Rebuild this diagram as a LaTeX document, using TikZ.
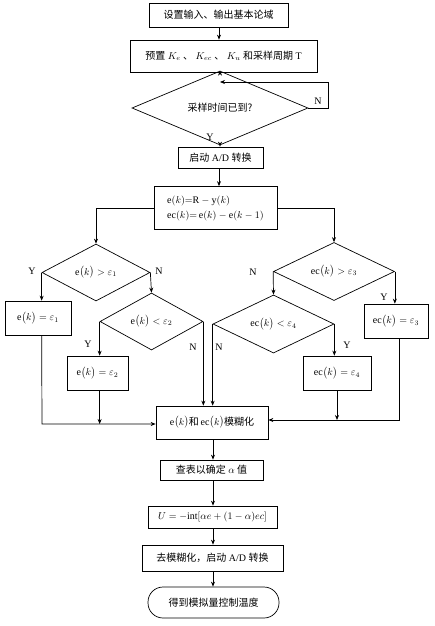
\documentclass[tikz,border=0pt]{standalone}
\usepackage{fontspec}
\setmainfont{Liberation Serif}
\newfontfamily\cjk{Noto Sans CJK SC}
\usetikzlibrary{shapes.geometric,arrows.meta}
\newcommand{\fk}{\bigl(k\bigr)}
\begin{document}
\begin{tikzpicture}[x=1pt,y=-1pt,
  every node/.style={font=\fontsize{10}{12}\selectfont},
  bx/.style={draw, line width=0.7pt, inner sep=0pt, minimum width=#1},
  dm/.style={draw, diamond, line width=0.7pt, inner sep=0pt},
  lb/.style={inner sep=0pt},
  ln/.style={line width=0.7pt},
  ar/.style={line width=0.7pt, -{Stealth[length=5pt,width=4pt]}}]
\useasboundingbox (0,0) rectangle (434,626);
\fill[white] (0,0) rectangle (434,626);
% nodes
\node[bx=139pt, minimum height=24pt] (b1) at (218.5,15) {\cjk 设置输入、输出基本论域};
\node[bx=187pt, minimum height=32pt] (b2) at (223.5,56) {{\cjk 预置} $K_e$ {\cjk 、} $K_{ec}$ {\cjk 、} $K_u$ {\cjk 和采样周期} T};
\node[dm, minimum width=176pt, minimum height=40pt] (d1) at (220,108) {\cjk 采样时间已到?};
\node[bx=85pt, minimum height=21pt] (b3) at (220.5,157.5) {{\cjk 启动} A/D {\cjk 转换}};
\node[bx=123pt, minimum height=43pt, align=left, font=\fontsize{10}{15}\selectfont] (b4) at (215.5,208)
  {$\mathrm{e}(k){=}\mathrm{R}-\mathrm{y}(k)$\\$\mathrm{ec}(k){=}\,\mathrm{e}(k)-\mathrm{e}(k-1)$};
\node[dm, minimum width=108pt, minimum height=57pt] (dl1) at (96,272.5) {$\mathrm{e}\fk>\varepsilon_1$};
\node[dm, minimum width=121pt, minimum height=57pt] (dr1) at (334,271.5) {$\mathrm{ec}\fk>\varepsilon_3$};
\node[bx=66pt, minimum height=34pt] (bl1) at (38,318) {$\mathrm{e}\fk=\varepsilon_1$};
\node[dm, minimum width=103pt, minimum height=57pt] (dl2) at (151.5,321.5) {$\mathrm{e}\fk<\varepsilon_2$};
\node[bx=61pt, minimum height=34pt] (bl2) at (97.5,373) {$\mathrm{e}\fk=\varepsilon_2$};
\node[bx=64pt, minimum height=34pt] (br1) at (396,321) {$\mathrm{ec}\fk=\varepsilon_3$};
\node[dm, minimum width=121pt, minimum height=58pt] (dr2) at (273.5,324) {$\mathrm{ec}\fk<\varepsilon_4$};
\node[bx=68pt, minimum height=34pt] (br2) at (337,373) {$\mathrm{ec}\fk=\varepsilon_4$};
\node[bx=112pt, minimum height=33pt] (c) at (212,422.5) {$\mathrm{e}\fk${\cjk 和}$\,\mathrm{ec}\fk${\cjk 模糊化}};
\node[bx=103pt, minimum height=20pt] (b5) at (211.5,470) {{\cjk 查表以确定} $\alpha$ {\cjk 值}};
\node[bx=129pt, minimum height=22pt] (b6) at (212.5,517) {$U=-\mathrm{int}[\alpha e+(1-\alpha)ec]$};
\node[bx=141pt, minimum height=26pt] (b7) at (212.5,558) {{\cjk 去模糊化，启动} A/D {\cjk 转换}};
\node[bx=131pt, minimum height=31pt, rounded corners=15pt] (b8) at (213.5,602.5) {\cjk 得到模拟量控制温度};
% labels
\node[lb] (lN1) at (318,101) {N};
\node[lb] (lY1) at (210,137) {Y};
\node[lb] (lY2) at (32,271) {Y};
\node[lb] (lN2) at (159,271) {N};
\node[lb] (lY3) at (88,344) {Y};
\node[lb] (lN3) at (193,347) {N};
\node[lb] (lN4) at (253,272) {N};
\node[lb] (lY4) at (384,297) {Y};
\node[lb] (lY5) at (347,345) {Y};
\node[lb] (lN5) at (219,347) {N};
% coordinates
\coordinate (lp) at (328,82);
\coordinate (lpe) at (220,82);
\coordinate (jl) at (42,424);
\coordinate (jr) at (399,420);
% connectors
\draw[ar] (b1.south -| 219,0) -- (b2.north -| 219,0);
\draw[ar] (d1.north |- b2.south) -- (d1.north);
\draw[ar] (d1.east) -| (lp) -- (lpe);
\draw[ar] (d1.south) -- (d1.south |- b3.north);
\draw[ar] (b3.south -| 219,0) -- (b4.north -| 219,0);
\draw[ar] (b4.west) -| (dl1.north);
\draw[ar] (b4.east) -| (dr1.north);
\draw[ar] (dl1.west) -- (dl1.west |- bl1.north);
\draw[ar] (dl1.east) -- (dl2.north);
\draw[ar] (dl2.west) -- (dl2.west |- bl2.north);
\draw[ar] (dl2.east) -- (dl2.east |- c.north);
\draw[ar] (dr1.west) -- (dr2.north);
\draw[ar] (dr1.east) -- (dr1.east |- br1.north);
\draw[ar] (dr2.west) -- (dr2.west |- c.north);
\draw[ar] (dr2.east) -- (dr2.east |- br2.north);
\draw[ar] (dl1.west |- bl1.south) -- (jl) -- (jl -| c.west);
\draw[ar] (dl2.west |- bl2.south) -- (dl2.west |- jl);
\draw[ar] (jr |- br1.south) -- (jr) -- (jr -| c.east);
\draw[ar] (br2.south) -- (br2.south |- jr);
\draw[ar] (c.south -| 213,0) -- (b5.north -| 213,0);
\draw[ar] (b5.south -| 213,0) -- (b6.north -| 213,0);
\draw[ar] (b6.south -| 213,0) -- (b7.north -| 213,0);
\draw[ar] (b7.south -| 213,0) -- (b8.north -| 213,0);
\end{tikzpicture}
\end{document}
